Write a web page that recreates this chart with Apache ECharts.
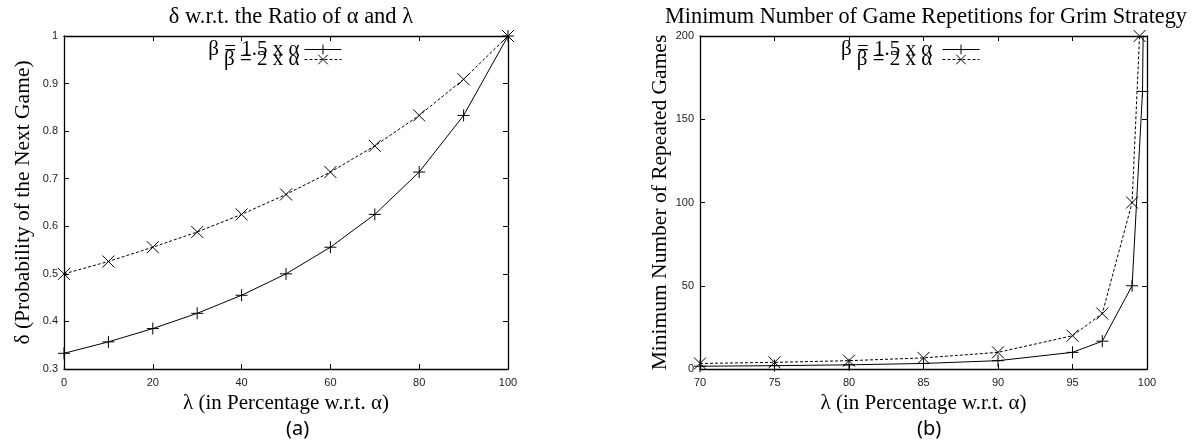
<!DOCTYPE html>
<html>
<head>
<meta charset="utf-8">
<script src="https://cdn.jsdelivr.net/npm/echarts@6/dist/echarts.min.js"></script>
<style>html,body{margin:0;padding:0;background:#fff;}#c{width:1195px;height:447px;}</style>
</head>
<body>
<div id="c"></div>
<script>
// ---- data ----
var lambdaA = [0, 10, 20, 30, 40, 50, 60, 70, 80, 90, 100];
var deltaB15 = [0.333, 0.357, 0.385, 0.417, 0.455, 0.5, 0.556, 0.625, 0.714, 0.833, 1.0];
var deltaB2 = [0.5, 0.526, 0.556, 0.588, 0.625, 0.667, 0.714, 0.769, 0.833, 0.909, 1.0];
var lambdaB15 = [70, 75, 80, 85, 90, 95, 97, 99, 99.7, 99.8];
var gamesB15 = [1.67, 2, 2.5, 3.33, 5, 10, 16.7, 50, 166.7, 250];
var lambdaB2 = [70, 75, 80, 85, 90, 95, 97, 99, 99.5];
var gamesB2 = [3.33, 4, 5, 6.67, 10, 20, 33.3, 100, 200];
var seriesNames = ['β = 1.5 x α', 'β = 2 x α'];
var titles = ['δ w.r.t. the Ratio of α and λ', 'Minimum Number of Game Repetitions for Grim Strategy'];
var xNames = ['λ (in Percentage w.r.t. α)', 'λ (in Percentage w.r.t. α)'];
var yNames = ['δ (Probability of the Next Game)', 'Minimum Number of Repeated Games'];
var captions = ['(a)', '(b)'];

function zip(a, b) { return a.map(function (v, i) { return [v, b[i]]; }); }

var SERIF = '"Liberation Serif", "DejaVu Serif", serif';
var SANS = '"Liberation Sans", Arial, sans-serif';
var PLUS = 'path://M0,6L12,6M6,0L6,12';
var CROSS = 'path://M0,0L12,12M12,0L0,12';

var grids = [
  { left: 64, top: 36, width: 444, height: 333 },
  { left: 700, top: 36, width: 447, height: 333 }
];
var xr = [{ min: 0, max: 100, interval: 20 }, { min: 70, max: 100, interval: 5 }];
var yr = [{ min: 0.3, max: 1, interval: 0.1 }, { min: 0, max: 200, interval: 50 }];

var xAxes = [], yAxes = [];
[0, 1].forEach(function (g) {
  var tick = { show: true, inside: true, length: 5, lineStyle: { color: '#000', width: 1 } };
  xAxes.push({
    type: 'value', gridIndex: g, min: xr[g].min, max: xr[g].max, interval: xr[g].interval,
    position: 'bottom', name: xNames[g], nameLocation: 'middle', nameGap: 18,
    nameTextStyle: { fontFamily: SERIF, fontSize: 21, color: '#000' },
    axisLine: { show: true, onZero: false, lineStyle: { color: '#000', width: 1.3 } },
    axisTick: tick, splitLine: { show: false },
    axisLabel: { fontFamily: SANS, fontSize: 11, color: '#222', margin: 8 }
  });
  xAxes.push({
    type: 'value', gridIndex: g, min: xr[g].min, max: xr[g].max, interval: xr[g].interval,
    position: 'top',
    axisLine: { show: true, onZero: false, lineStyle: { color: '#000', width: 1.3 } },
    axisTick: tick, splitLine: { show: false }, axisLabel: { show: false }
  });
  yAxes.push({
    type: 'value', gridIndex: g, min: yr[g].min, max: yr[g].max, interval: yr[g].interval,
    position: 'left', name: yNames[g], nameLocation: 'middle', nameGap: g === 0 ? 30 : 26,
    nameTextStyle: { fontFamily: SERIF, fontSize: 21.5, color: '#000' },
    axisLine: { show: true, onZero: false, lineStyle: { color: '#000', width: 1.3 } },
    axisTick: tick, splitLine: { show: false },
    axisLabel: { fontFamily: SANS, fontSize: 11, color: '#222', margin: 6,
      formatter: function (v) { return g === 0 ? (Math.round(v * 10) / 10).toString() : v; } }
  });
  yAxes.push({
    type: 'value', gridIndex: g, min: yr[g].min, max: yr[g].max, interval: yr[g].interval,
    position: 'right',
    axisLine: { show: true, onZero: false, lineStyle: { color: '#000', width: 1.3 } },
    axisTick: tick, splitLine: { show: false }, axisLabel: { show: false }
  });
});

function mkSeries(name, data, g, dashed, sym) {
  return {
    type: 'line', name: name, data: data, xAxisIndex: g * 2, yAxisIndex: g * 2,
    symbol: sym, symbolSize: 12, showSymbol: true, clip: true,
    lineStyle: { color: '#000', width: 1, type: dashed ? [3, 2] : 'solid' },
    itemStyle: { color: '#000', borderColor: '#000', borderWidth: 1 },
    emphasis: { disabled: true }, silent: true
  };
}

var series = [
  mkSeries(seriesNames[0], zip(lambdaA, deltaB15), 0, false, PLUS),
  mkSeries(seriesNames[1], zip(lambdaA, deltaB2), 0, true, CROSS),
  mkSeries(seriesNames[0] + ' ', zip(lambdaB15, gamesB15), 1, false, PLUS),
  mkSeries(seriesNames[1] + ' ', zip(lambdaB2, gamesB2), 1, true, CROSS)
];

function mkLegend(names, right) {
  return {
    data: names, orient: 'vertical', align: 'right', right: right, top: 39,
    itemWidth: 37, itemHeight: 12, itemGap: -11, selectedMode: false,
    lineStyle: { width: 1 },
    itemStyle: { borderWidth: 1 },
    textStyle: { fontFamily: SERIF, fontSize: 21, color: '#000', padding: 0 },
    padding: 0
  };
}

var chart = echarts.init(document.getElementById('c'), null, { renderer: 'canvas' });
chart.setOption({
  animation: false,
  backgroundColor: '#fff',
  title: [
    { text: titles[0], left: 286, top: 1, textAlign: 'center', textStyle: { fontFamily: SERIF, fontSize: 22.5, fontWeight: 'normal', color: '#000' } },
    { text: titles[1], left: 921, top: 1, textAlign: 'center', textStyle: { fontFamily: SERIF, fontSize: 22.3, fontWeight: 'normal', color: '#000' } }
  ],
  legend: [
    mkLegend([seriesNames[0], seriesNames[1]], 853),
    mkLegend([seriesNames[0] + ' ', seriesNames[1] + ' '], 215)
  ],
  grid: grids,
  xAxis: xAxes,
  yAxis: yAxes,
  series: series,
  graphic: [
    { type: 'text', left: 286, top: 419, style: { text: captions[0], font: '20px "Noto Sans", sans-serif', fill: '#000', textAlign: 'center' } },
    { type: 'text', left: 917, top: 419, style: { text: captions[1], font: '20px "Noto Sans", sans-serif', fill: '#000', textAlign: 'center' } }
  ]
});
</script>
</body>
</html>
